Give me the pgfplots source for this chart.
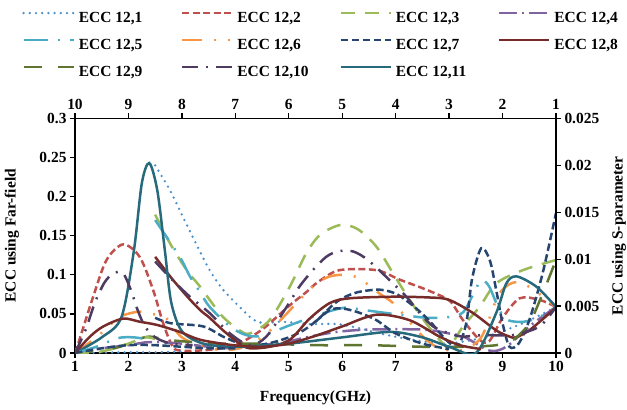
\documentclass[border=0pt]{standalone}
\usepackage{fontspec}
\setmainfont{Liberation Serif}
\usepackage{pgfplots}
\pgfplotsset{compat=1.18}

\definecolor{c1}{HTML}{4A90CA}
\definecolor{c2}{HTML}{C0504D}
\definecolor{c3}{HTML}{9BBB59}
\definecolor{c4}{HTML}{8064A2}
\definecolor{c5}{HTML}{4BACC6}
\definecolor{c6}{HTML}{F79646}
\definecolor{c7}{HTML}{27466F}
\definecolor{c8}{HTML}{772C2A}
\definecolor{c9}{HTML}{5F7530}
\definecolor{c10}{HTML}{4D3B62}
\definecolor{c11}{HTML}{276A7C}

\newcommand{\lblfont}{\bfseries\fontsize{15.5}{18}\selectfont}

\pgfplotsset{
  s1/.style={color=c1, line width=2.6bp, dash pattern=on 0bp off 6.2bp, line cap=round, smooth},
  s2/.style={color=c2, line width=2.5bp, dash pattern=on 7bp off 3.5bp, smooth},
  s3/.style={color=c3, line width=2.5bp, dash pattern=on 14bp off 10bp, smooth},
  s4/.style={color=c4, line width=2.5bp, dash pattern=on 18bp off 5bp on 2bp off 5bp, smooth},
  s5/.style={color=c5, line width=2.5bp, dash pattern=on 24bp off 10bp on 2bp off 10bp, smooth},
  s6/.style={color=c6, line width=2.5bp, dash pattern=on 20bp off 12bp on 2bp off 12bp on 2bp off 12bp, smooth},
  s7/.style={color=c7, line width=2.5bp, dash pattern=on 7.5bp off 3.5bp, smooth},
  s8/.style={color=c8, line width=2.5bp, smooth},
  s9/.style={color=c9, line width=2.5bp, dash pattern=on 18bp off 16bp, smooth},
  s10/.style={color=c10, line width=2.5bp, dash pattern=on 16bp off 8bp on 2bp off 8bp, smooth},
  s11/.style={color=c11, line width=2.5bp, smooth},
  frame/.style={
    scale only axis, width=481bp, height=234.5bp,
    xmin=1, xmax=10,
    tick align=outside, major tick length=5bp,
    axis line style={line width=1.6bp},
    every tick/.style={black, line width=1.3bp},
    tick label style={font=\lblfont},
    label style={font=\lblfont},
    scaled ticks=false,
    xtick={1,2,3,4,5,6,7,8,9,10},
    xticklabels={1,2,3,4,5,6,7,8,9,10},
  },
}

\begin{document}
\begin{tikzpicture}
\begin{axis}[
  frame,
  ymin=0, ymax=0.3,
  axis x line*=bottom, axis y line*=left,
  ytick={0,0.05,0.1,0.15,0.2,0.25,0.3},
  yticklabels={0,0.05,0.1,0.15,0.2,0.25,0.3},
  xlabel={Frequency(GHz)},
  ylabel={ECC using Far-field},
  xlabel style={at={(axis description cs:0.5,-0.192)}, anchor=center},
  ylabel style={at={(axis description cs:-0.131,0.5)}, anchor=center},
  legend columns=4,
  legend cell align=left,
  legend image code/.code={\draw[#1] (0bp,5bp) -- (50bp,5bp);},
  legend style={draw=none, fill=none, inner sep=0pt,
    at={(axis description cs:-0.110,1.459)}, anchor=north west,
    font=\lblfont, row sep=13bp,
    /tikz/every odd column/.append style={column sep=4bp},
    /tikz/every even column/.append style={column sep=7bp},
    nodes={inner sep=0pt, text height=11bp, text depth=3bp}},
]
\coordinate (pSW) at (rel axis cs:0,0);
\coordinate (pNE) at (rel axis cs:1,1);

% ECC 12,1
\addplot[s1] coordinates {(2.5,0.24)(2.78,0.208)(3.02,0.174)(3.3,0.135)(3.52,0.106)(3.77,0.081)(4.08,0.059)(4.33,0.043)(4.55,0.038)(4.8,0.040)(5.1,0.039)(5.4,0.037)(5.9,0.037)(6.3,0.032)(6.7,0.025)(7.3,0.017)(7.9,0.012)(8.3,0.015)(8.7,0.021)(9.2,0.033)(9.6,0.045)(10,0.059)};
\addlegendentry{\makebox[95bp][l]{ECC 12,1}}
% ECC 12,2
\addplot[s2] coordinates {(1,0)(1.06,0.012)(1.34,0.072)(1.59,0.119)(1.9,0.139)(2.21,0.123)(2.46,0.081)(2.65,0.038)(2.83,0.008)(3.0,0.003)(3.5,0.004)(4.0,0.01)(4.5,0.03)(5.0,0.06)(5.33,0.078)(5.55,0.091)(5.95,0.106)(6.64,0.106)(7.07,0.094)(7.5,0.083)(7.88,0.072)(8.05,0.064)(8.26,0.042)(8.57,0.017)(8.75,0.015)(9.0,0.045)(9.32,0.07)(9.69,0.068)(10,0.059)};
\addlegendentry{\makebox[95bp][l]{ECC 12,2}}
% ECC 12,3
\addplot[s3] coordinates {(2.5,0.177)(2.78,0.14)(3.09,0.106)(3.34,0.085)(3.52,0.068)(3.77,0.046)(4.08,0.029)(4.27,0.025)(4.64,0.042)(5.02,0.085)(5.33,0.128)(5.6,0.152)(5.98,0.164)(6.3,0.158)(6.64,0.136)(6.95,0.102)(7.26,0.068)(7.57,0.038)(7.82,0.017)(8.0,0.008)(8.26,0.034)(8.57,0.059)(8.88,0.089)(9.38,0.106)(10,0.119)};
\addlegendentry{\makebox[95bp][l]{ECC 12,3}}
% ECC 12,4
\addplot[s4] coordinates {(1,0)(1.5,0.006)(2,0.01)(2.4,0.014)(3,0.012)(3.5,0.008)(4,0.006)(4.5,0.01)(5,0.015)(5.4,0.021)(5.9,0.027)(6.5,0.03)(7.5,0.03)(8,0.025)(8.3,0.02)(8.76,0.003)(9.07,0.008)(9.5,0.034)(10,0.059)};
\addlegendentry{\makebox[95bp][l]{ECC 12,4}}
% ECC 12,5
\addplot[s5] coordinates {(2.5,0.17)(2.96,0.123)(3.15,0.098)(3.34,0.078)(3.52,0.059)(3.9,0.034)(4.2,0.023)(4.5,0.022)(5.0,0.035)(5.6,0.05)(6.05,0.058)(6.4,0.055)(7.07,0.049)(7.6,0.045)(8.0,0.046)(8.26,0.052)(8.45,0.075)(8.6,0.093)(8.75,0.085)(8.94,0.055)(9.1,0.042)(9.4,0.04)(9.69,0.046)(10,0.059)};
\addlegendentry{\makebox[95bp][l]{ECC 12,5}}
% ECC 12,6
\addplot[s6] coordinates {(1,0)(1.4,0.02)(1.84,0.046)(2.21,0.053)(2.43,0.05)(2.7,0.045)(3.0,0.02)(3.5,0.006)(4.0,0.005)(4.5,0.02)(4.9,0.046)(5.2,0.068)(5.5,0.088)(5.77,0.098)(6.08,0.1)(6.33,0.095)(6.7,0.076)(6.95,0.064)(7.2,0.045)(7.45,0.025)(7.76,0.008)(8.2,0.003)(8.6,0.02)(8.94,0.076)(9.29,0.091)(9.7,0.075)(10,0.059)};
\addlegendentry{\makebox[95bp][l]{ECC 12,6}}
% ECC 12,7
\addplot[s7] coordinates {(2.5,0.045)(2.8,0.038)(3.4,0.034)(3.8,0.02)(4.2,0.01)(4.6,0.012)(5.0,0.02)(5.3,0.03)(5.58,0.045)(5.8,0.06)(6.0,0.07)(6.3,0.078)(6.7,0.081)(7.0,0.076)(7.26,0.064)(7.5,0.05)(7.7,0.036)(7.9,0.02)(8.15,0.008)(8.32,0.038)(8.43,0.095)(8.6,0.134)(8.76,0.119)(8.88,0.081)(9.0,0.038)(9.13,0.008)(9.3,0.012)(9.5,0.042)(9.75,0.102)(10,0.179)};
\addlegendentry{\makebox[95bp][l]{ECC 12,7}}
% ECC 12,8
\addplot[s8] coordinates {(2.5,0.123)(2.78,0.098)(3.09,0.073)(3.34,0.055)(3.52,0.045)(3.77,0.029)(4.08,0.012)(4.27,0.006)(4.64,0.008)(5.02,0.017)(5.39,0.044)(5.77,0.064)(6.14,0.07)(6.95,0.072)(7.64,0.071)(8.0,0.068)(8.45,0.051)(8.88,0.029)(9.13,0.021)(9.25,0.02)(9.5,0.029)(9.88,0.051)(10,0.059)};
\addlegendentry{\makebox[95bp][l]{ECC 12,8}}
% ECC 12,9
\addplot[s9] coordinates {(1,0)(1.5,0.003)(1.84,0.008)(2.15,0.017)(2.4,0.021)(2.7,0.017)(3.2,0.014)(3.71,0.012)(4.5,0.012)(5.5,0.01)(6.5,0.01)(7.5,0.008)(8.26,0.008)(8.88,0.01)(9.2,0.017)(9.5,0.038)(9.75,0.076)(10,0.119)};
\addlegendentry{\makebox[95bp][l]{ECC 12,9}}
% ECC 12,10
\addplot[s10] coordinates {(2.5,0.117)(2.8,0.095)(3.15,0.072)(3.52,0.051)(3.9,0.025)(4.27,0.01)(4.58,0.021)(4.96,0.059)(5.2,0.085)(5.45,0.106)(5.7,0.123)(5.92,0.13)(6.2,0.13)(6.48,0.119)(6.89,0.093)(7.2,0.072)(7.45,0.051)(7.7,0.034)(8.0,0.025)(8.26,0.021)(8.63,0.023)(9.2,0.023)(9.69,0.034)(10,0.059)};
\addlegendentry{\makebox[95bp][l]{ECC 12,10}}
% ECC 12,11
\addplot[s11] coordinates {(1,0)(1.5,0.02)(1.87,0.046)(2.1,0.13)(2.25,0.217)(2.39,0.243)(2.54,0.208)(2.68,0.132)(2.8,0.065)(3,0.028)(3.4,0.012)(4,0.008)(5,0.012)(6,0.02)(6.9,0.027)(7.5,0.02)(8,0.008)(8.5,0)(8.88,0.051)(9.07,0.089)(9.26,0.098)(9.63,0.085)(10,0.059)};
\addlegendentry{\makebox[95bp][l]{ECC 12,11}}

% low-frequency portions of the curves
\addplot[s1, forget plot] coordinates {(1,0)(1.5,0.0005)(2,0.001)(2.5,0.001)(3,0.002)};
\addplot[s3, forget plot] coordinates {(1,0)(1.5,0.002)(2,0.012)(2.3,0.02)(2.5,0.018)};
\addplot[s5, forget plot] coordinates {(1,0)(1.4,0.008)(1.8,0.019)(2.1,0.02)(2.4,0.017)};
\addplot[s7, forget plot] coordinates {(1,0)(1.5,0.006)(2,0.01)(2.5,0.01)(3,0.008)(3.5,0.006)(4,0.006)};
\addplot[s7, forget plot] coordinates {(5.5,0.04)(5.77,0.055)(6.0,0.057)(6.3,0.052)(6.64,0.042)(7.0,0.025)(7.5,0.012)(8,0.005)};
\addplot[s8, forget plot] coordinates {(1,0)(1.28,0.021)(1.53,0.034)(1.9,0.044)(2.21,0.04)(2.53,0.036)(2.96,0.027)(3.34,0.017)(3.96,0.01)(4.5,0.008)(5.0,0.012)(5.5,0.022)(6.0,0.034)(6.64,0.049)(7.26,0.042)(7.82,0.021)(8.2,0.01)(8.6,0.005)};
\addplot[s10, forget plot] coordinates {(1,0)(1.2,0.03)(1.37,0.064)(1.55,0.09)(1.72,0.102)(1.9,0.102)(2.06,0.078)(2.15,0.059)(2.3,0.035)(2.5,0.02)(2.8,0.012)(3.2,0.01)};
\end{axis}

\begin{axis}[
  frame,
  x dir=reverse,
  ymin=0, ymax=0.025,
  axis x line*=top, axis y line*=right,
  ytick={0,0.005,0.01,0.015,0.02,0.025},
  yticklabels={0,0.005,0.01,0.015,0.02,0.025},
  ylabel={ECC using S-parameter},
  ylabel style={at={(axis description cs:1.131,0.5)}, anchor=center},
]
\end{axis}

\pgfresetboundingbox
\path ([xshift=-75bp,yshift=-56bp]pSW) rectangle ([xshift=71bp,yshift=118.5bp]pNE);
\end{tikzpicture}
\end{document}
